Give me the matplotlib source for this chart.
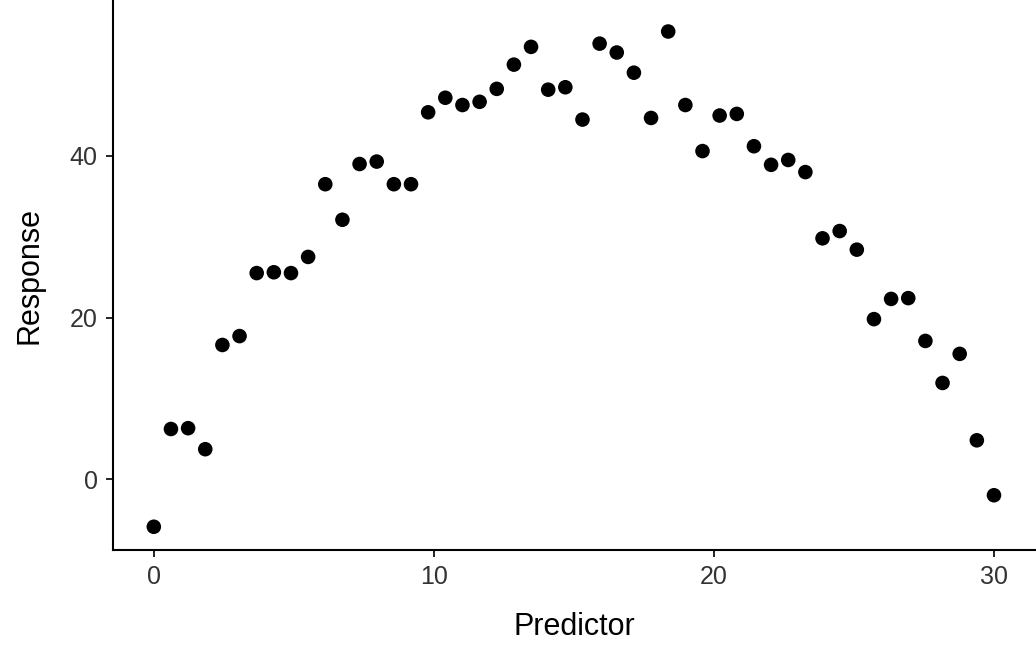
import numpy as np
import matplotlib
matplotlib.use("Agg")
import matplotlib.pyplot as plt

plt.rcParams['font.family'] = ['Liberation Sans', 'DejaVu Sans']

predictor = np.linspace(0, 30, 50)
response = [-5.9, 6.2, 6.3, 3.7, 16.6, 17.7, 25.5, 25.6, 25.5, 27.5,
            36.5, 32.1, 39.0, 39.3, 36.5, 36.5, 45.4, 47.2, 46.3, 46.7,
            48.3, 51.3, 53.5, 48.2, 48.5, 44.5, 53.9, 52.8, 50.3, 44.7,
            55.4, 46.3, 40.6, 45.0, 45.2, 41.2, 38.9, 39.5, 38.0, 29.8,
            30.7, 28.4, 19.8, 22.3, 22.4, 17.1, 11.9, 15.5, 4.8, -2.0]

fig = plt.figure(figsize=(10.36, 6.45), dpi=100)
ax = fig.add_axes([0.109, 0.147, 0.891, 0.853])
ax.scatter(predictor, response, s=110, color='black', edgecolors='none')
ax.set_xlim(-1.46, 31.5)
ax.set_ylim(-8.8, 59.3)
ax.set_xticks([0, 10, 20, 30])
ax.set_yticks([0, 20, 40])
for s in ['top', 'right']:
    ax.spines[s].set_visible(False)
for s in ['left', 'bottom']:
    ax.spines[s].set_linewidth(1.5)
ax.tick_params(labelsize=18, colors='black', labelcolor='#333333', width=1.2, length=5, pad=6)
ax.set_xlabel('Predictor', fontsize=22, labelpad=16)
ax.set_ylabel('Response', fontsize=22, labelpad=18)
fig.savefig('out.png', dpi=100)
